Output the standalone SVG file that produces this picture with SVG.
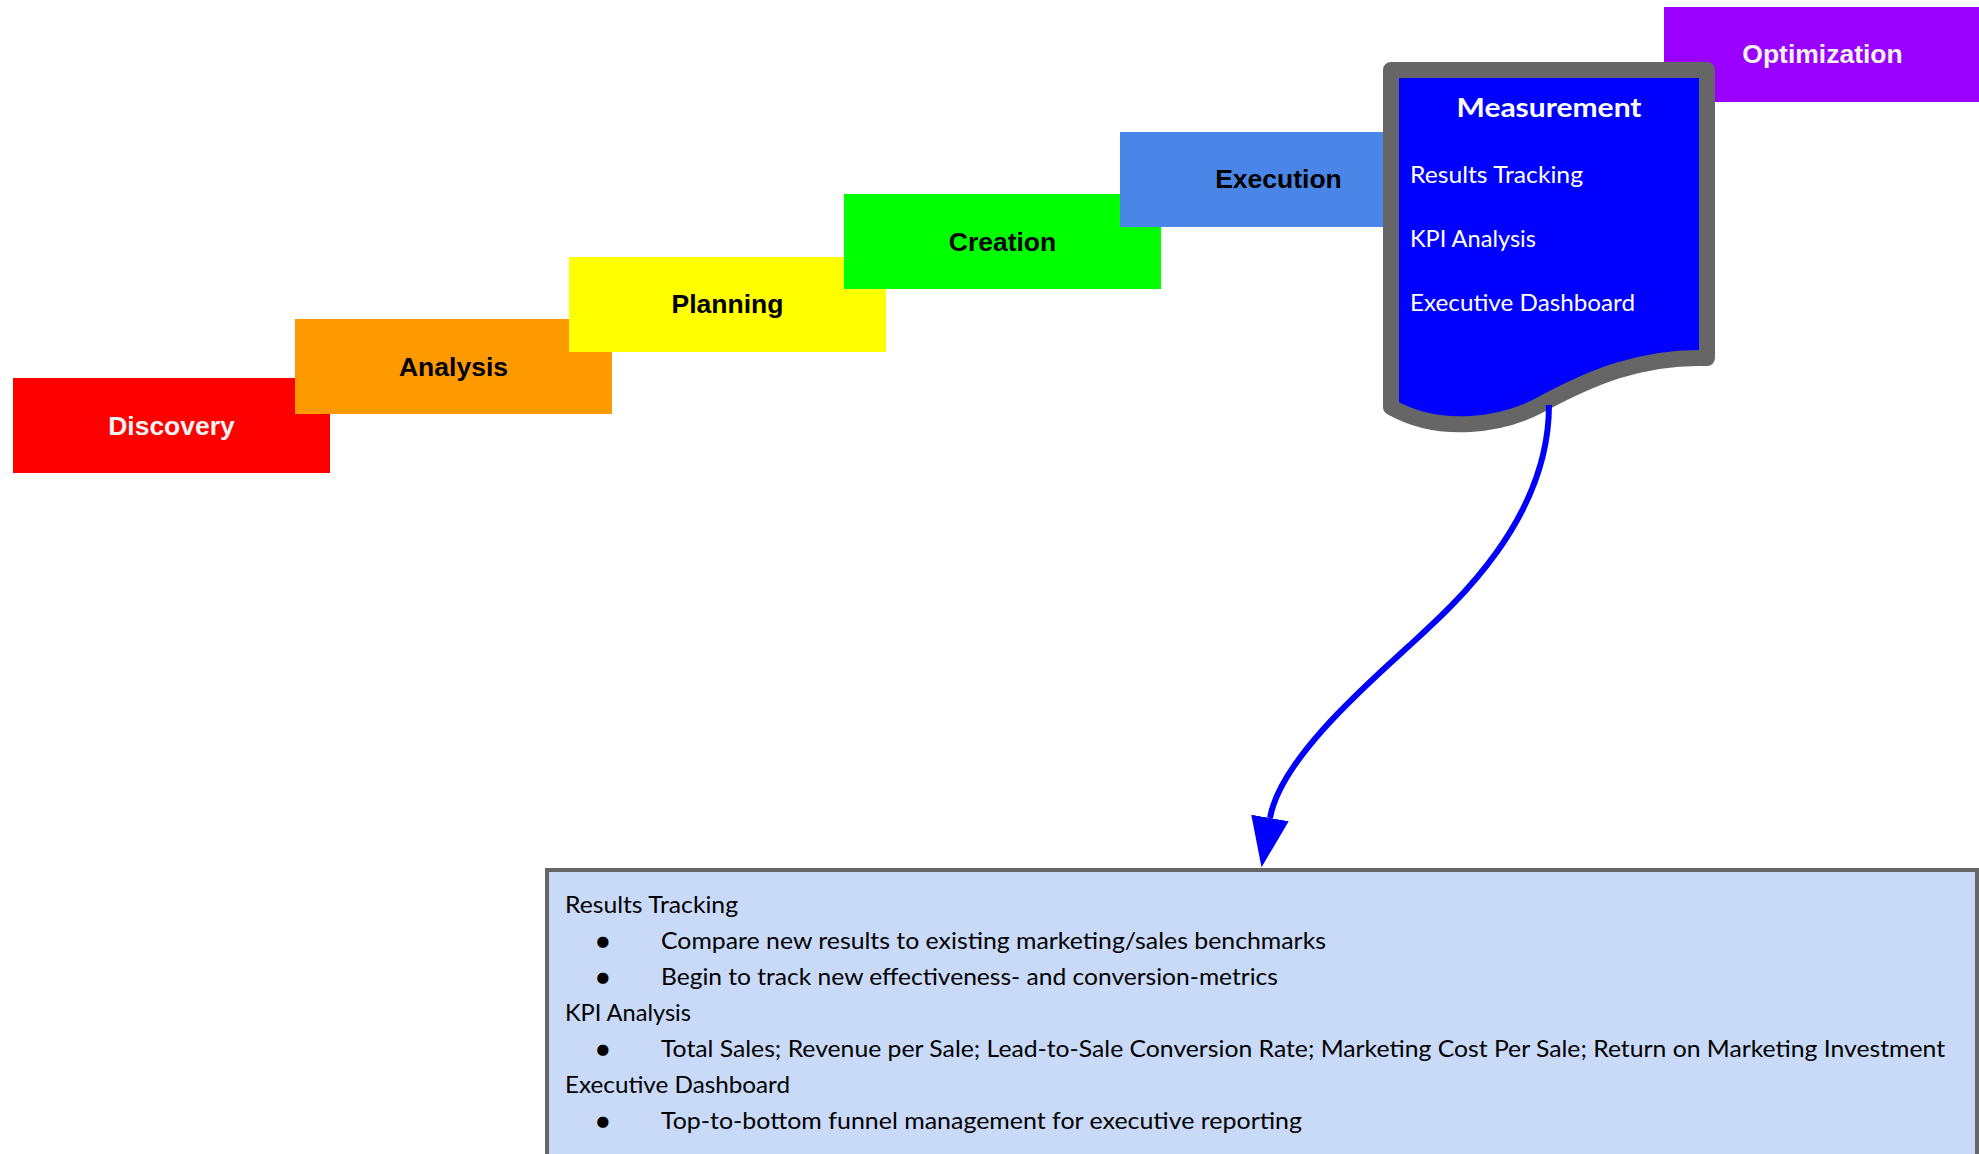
<svg xmlns="http://www.w3.org/2000/svg" width="1979" height="1154" viewBox="0 0 1979 1154">
  <style>
    .step text { font-family: "Liberation Sans", Arial, sans-serif; font-weight: bold; font-size: 26.5px; text-anchor: middle; }
    .dark { fill: #000000; }
    .light { fill: #f3f3f3; }
    .doc-title { font-family: Lato, "Open Sans", sans-serif; font-weight: bold; font-size: 27px; fill: #ffffff; text-anchor: middle; }
    .doc-item { font-family: Lato, "Open Sans", sans-serif; font-size: 23px; fill: #ffffff; }
    .note text { font-family: Lato, "Open Sans", sans-serif; font-size: 23px; fill: #000000; }
  </style>
  <defs>
    <marker id="arrow" markerUnits="userSpaceOnUse" markerWidth="52" markerHeight="40" refX="0" refY="19" orient="auto">
      <path d="M0,0 L50,19 L0,38 Z" fill="#0000ff"/>
    </marker>
  </defs>
  <rect width="1979" height="1154" fill="#ffffff"/>

  <!-- staircase of phases -->
  <g id="discovery" class="step">
    <rect x="13" y="378" width="317" height="95" fill="#ff0000"/>
    <text x="171.5" y="435" class="light">Discovery</text>
  </g>
  <g id="analysis" class="step">
    <rect x="295" y="319" width="317" height="95" fill="#ff9900"/>
    <text x="453.5" y="376" class="dark">Analysis</text>
  </g>
  <g id="planning" class="step">
    <rect x="569" y="257" width="317" height="95" fill="#ffff00"/>
    <text x="727.5" y="313" class="dark">Planning</text>
  </g>
  <g id="creation" class="step">
    <rect x="844" y="194" width="317" height="95" fill="#00ff00"/>
    <text x="1002.5" y="251" class="dark">Creation</text>
  </g>
  <g id="execution" class="step">
    <rect x="1120" y="132" width="317" height="95" fill="#4a86e8"/>
    <text x="1278.5" y="188" class="dark">Execution</text>
  </g>
  <g id="optimization" class="step">
    <rect x="1664" y="7" width="317" height="95" fill="#9900ff"/>
    <text x="1822.5" y="63" class="light">Optimization</text>
  </g>

  <!-- measurement document shape with wavy bottom -->
  <g id="measurement">
    <path d="M1391,70 H1707 V358 C1640,356 1590,378 1540,405 C1503,425 1440,435 1391,407 Z" fill="#0000ff" stroke="#666666" stroke-width="16" stroke-linejoin="round"/>
    <text x="1549" y="117" class="doc-title" textLength="185" lengthAdjust="spacingAndGlyphs">Measurement</text>
    <text x="1410" y="183" class="doc-item" textLength="173" lengthAdjust="spacingAndGlyphs">Results Tracking</text>
    <text x="1410" y="247" class="doc-item" textLength="126" lengthAdjust="spacingAndGlyphs">KPI Analysis</text>
    <text x="1410" y="311" class="doc-item" textLength="225" lengthAdjust="spacingAndGlyphs">Executive Dashboard</text>
  </g>

  <!-- detail note -->
  <g id="details" class="note">
    <rect x="547" y="870" width="1430" height="320" fill="#c9daf8" stroke="#666666" stroke-width="4"/>
    <text x="565" y="913" textLength="173" lengthAdjust="spacingAndGlyphs">Results Tracking</text>
    <text x="596" y="949">●</text>
    <text x="661" y="949" textLength="665" lengthAdjust="spacingAndGlyphs">Compare new results to existing marketing/sales benchmarks</text>
    <text x="596" y="985">●</text>
    <text x="661" y="985" textLength="617" lengthAdjust="spacingAndGlyphs">Begin to track new effectiveness- and conversion-metrics</text>
    <text x="565" y="1021" textLength="126" lengthAdjust="spacingAndGlyphs">KPI Analysis</text>
    <text x="596" y="1057">●</text>
    <text x="661" y="1057" textLength="1284" lengthAdjust="spacingAndGlyphs">Total Sales; Revenue per Sale; Lead-to-Sale Conversion Rate; Marketing Cost Per Sale; Return on Marketing Investment</text>
    <text x="565" y="1093" textLength="225" lengthAdjust="spacingAndGlyphs">Executive Dashboard</text>
    <text x="596" y="1129">●</text>
    <text x="661" y="1129" textLength="641" lengthAdjust="spacingAndGlyphs">Top-to-bottom funnel management for executive reporting</text>
  </g>

  <!-- connectors -->
  <g id="connectors">
    <path d="M1549,405 C1549,520 1454,605 1410,645 C1366,685 1280,760 1270,818" fill="none" stroke="#0000ff" stroke-width="6" marker-end="url(#arrow)"/>
  </g>
</svg>
